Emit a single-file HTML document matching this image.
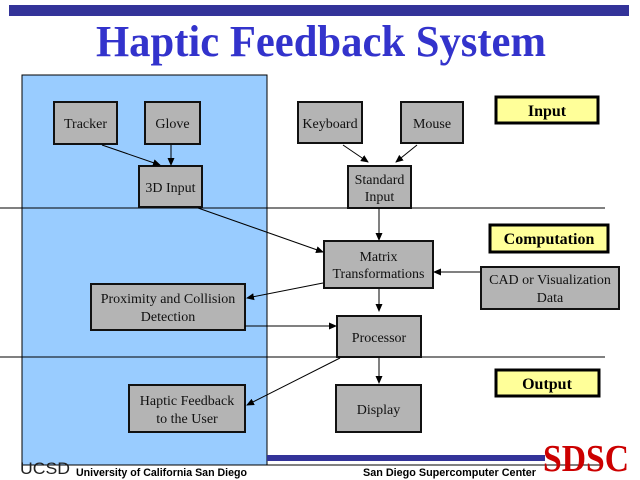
<!DOCTYPE html>
<html><head><style>
html,body{margin:0;padding:0;background:#fff;}
svg{display:block;}
</style></head><body>
<svg width="640" height="480" viewBox="0 0 640 480" xmlns="http://www.w3.org/2000/svg" font-family="Liberation Serif, serif">
<defs>
<marker id="a" markerWidth="8" markerHeight="8" refX="7" refY="4" orient="auto" markerUnits="userSpaceOnUse">
<path d="M0,0.5 L8,4 L0,7.5 Z" fill="#000"/></marker>
</defs>
<rect x="9" y="5" width="620" height="11" fill="#333399"/>
<text x="96" y="56" font-size="44" font-weight="bold" fill="#3333cc" textLength="450" lengthAdjust="spacingAndGlyphs">Haptic Feedback System</text>
<rect x="22" y="75" width="245" height="390" fill="#99ccff" stroke="#000" stroke-width="1"/>
<line x1="0" y1="208" x2="605" y2="208" stroke="#000"/>
<line x1="0" y1="357" x2="605" y2="357" stroke="#000"/>
<rect x="267" y="455" width="278" height="6" fill="#333399"/>
<line x1="267" y1="465" x2="600" y2="465" stroke="#000"/>
<g fill="#b4b4b4" stroke="#111" stroke-width="2">
<rect x="54" y="102" width="63" height="42"/>
<rect x="145" y="102" width="55" height="42"/>
<rect x="298" y="102" width="64" height="41"/>
<rect x="401" y="102" width="62" height="41"/>
<rect x="139" y="166" width="63" height="41"/>
<rect x="348" y="166" width="63" height="42"/>
<rect x="324" y="241" width="109" height="47"/>
<rect x="481" y="267" width="138" height="42"/>
<rect x="91" y="284" width="154" height="46"/>
<rect x="337" y="316" width="84" height="41"/>
<rect x="129" y="385" width="116" height="47"/>
<rect x="336" y="385" width="85" height="47"/>
</g>
<g fill="#ffff99" stroke="#000" stroke-width="3">
<rect x="496" y="97" width="102" height="26"/>
<rect x="490" y="225" width="118" height="27"/>
<rect x="496" y="370" width="103" height="26"/>
</g>
<g font-size="14" fill="#111" text-anchor="middle">
<text x="85.5" y="128">Tracker</text>
<text x="172.5" y="128">Glove</text>
<text x="330" y="128">Keyboard</text>
<text x="432" y="128">Mouse</text>
<text x="170.5" y="192">3D Input</text>
<text x="379.5" y="184">Standard</text>
<text x="379.5" y="201">Input</text>
<text x="378.5" y="261">Matrix</text>
<text x="378.5" y="278">Transformations</text>
<text x="550" y="284">CAD or Visualization</text>
<text x="550" y="302">Data</text>
<text x="168" y="303">Proximity and Collision</text>
<text x="168" y="321">Detection</text>
<text x="379" y="342">Processor</text>
<text x="187" y="405">Haptic Feedback</text>
<text x="187" y="423">to the User</text>
<text x="378.5" y="414">Display</text>
</g>
<g font-size="16" font-weight="bold" fill="#000" text-anchor="middle">
<text x="547" y="116">Input</text>
<text x="549" y="244">Computation</text>
<text x="547" y="389">Output</text>
</g>
<g stroke="#000" stroke-width="1" marker-end="url(#a)">
<line x1="102" y1="145" x2="160" y2="165"/>
<line x1="171" y1="145" x2="171" y2="165"/>
<line x1="343" y1="145" x2="368" y2="162"/>
<line x1="417" y1="145" x2="396" y2="162"/>
<line x1="198" y1="208" x2="323" y2="252"/>
<line x1="379" y1="208" x2="379" y2="240"/>
<line x1="480" y1="272" x2="434" y2="272"/>
<line x1="323" y1="283" x2="247" y2="298"/>
<line x1="379" y1="289" x2="379" y2="311"/>
<line x1="245" y1="326" x2="336" y2="326"/>
<line x1="340" y1="358" x2="247" y2="405"/>
<line x1="379" y1="358" x2="379" y2="383"/>
</g>
<text x="20" y="474" font-family="Liberation Sans, sans-serif" font-size="17" fill="#222" textLength="50" lengthAdjust="spacingAndGlyphs">UCSD</text>
<text x="76" y="476" font-family="Liberation Sans, sans-serif" font-size="11" font-weight="bold" fill="#000" textLength="171" lengthAdjust="spacingAndGlyphs">University of California San Diego</text>
<text x="363" y="476" font-family="Liberation Sans, sans-serif" font-size="11" font-weight="bold" fill="#000" textLength="173" lengthAdjust="spacingAndGlyphs">San Diego Supercomputer Center</text>
<text x="543" y="471" font-size="38" font-weight="bold" fill="#cc0000" textLength="86" lengthAdjust="spacingAndGlyphs">SDSC</text>
</svg>
</body></html>
